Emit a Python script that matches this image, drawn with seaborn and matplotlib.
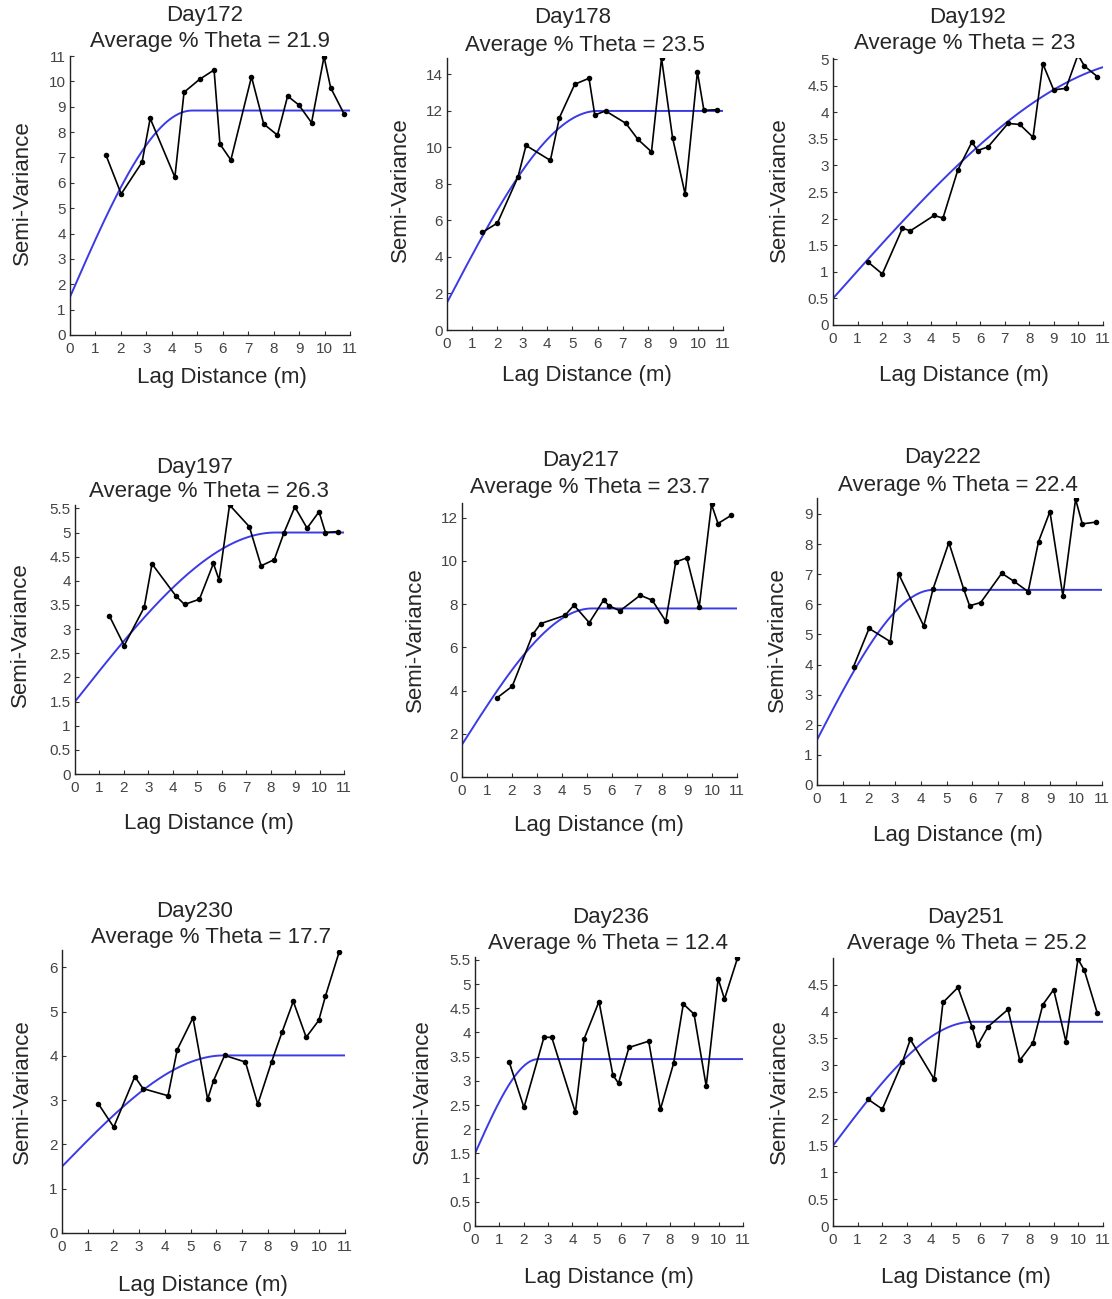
import numpy as np
import matplotlib
matplotlib.use("Agg")
import matplotlib.pyplot as plt
import seaborn as sns
import pandas as pd
from matplotlib import font_manager

# ---- data -------------------------------------------------------------
LAGS = [1.41, 2.01, 2.83, 3.15, 4.12, 4.48, 5.09, 5.66, 5.89, 6.32,
        7.13, 7.61, 8.15, 8.55, 8.99, 9.49, 9.98, 10.24, 10.77]

DAYS = ["Day172", "Day178", "Day192", "Day197", "Day217", "Day222",
        "Day230", "Day236", "Day251"]
THETA = ["21.9", "23.5", "23", "26.3", "23.7", "22.4", "17.7", "12.4", "25.2"]

gamma_172 = [7.10, 5.56, 6.81, 8.54, 6.22, 9.57, 10.08, 10.45, 7.53, 6.90,
             10.18, 8.32, 7.88, 9.42, 9.07, 8.37, 10.97, 9.75, 8.71]
gamma_178 = [5.35, 5.86, 8.39, 10.11, 9.29, 11.63, 13.46, 13.79, 11.78, 12.0,
             11.32, 10.44, 9.76, 14.89, 10.53, 7.45, 14.14, 12.03, 12.07]
gamma_192 = [1.19, 0.96, 1.82, 1.77, 2.06, 2.01, 2.92, 3.44, 3.28, 3.35,
             3.79, 3.77, 3.53, 4.91, 4.42, 4.45, 5.08, 4.87, 4.67]
gamma_197 = [3.27, 2.66, 3.45, 4.35, 3.69, 3.51, 3.62, 4.36, 4.02, 5.57,
             5.12, 4.31, 4.44, 5.00, 5.53, 5.09, 5.43, 5.00, 5.02]
gamma_217 = [3.67, 4.20, 6.60, 7.10, 7.48, 7.95, 7.14, 8.18, 7.92, 7.69,
             8.41, 8.18, 7.21, 9.95, 10.14, 7.87, 12.62, 11.73, 12.11]
gamma_222 = [3.93, 5.20, 4.76, 7.01, 5.28, 6.51, 8.05, 6.51, 5.95, 6.06,
             7.03, 6.76, 6.42, 8.08, 9.08, 6.28, 9.49, 8.67, 8.73]
gamma_230 = [2.92, 2.39, 3.53, 3.26, 3.10, 4.14, 4.86, 3.02, 3.44, 4.01,
             3.86, 2.91, 3.87, 4.53, 5.23, 4.42, 4.80, 5.35, 6.34]
gamma_236 = [3.38, 2.45, 3.90, 3.90, 2.35, 3.87, 4.64, 3.12, 2.95, 3.69,
             3.82, 2.41, 3.36, 4.59, 4.38, 2.89, 5.11, 4.69, 5.53]
gamma_251 = [2.37, 2.18, 3.06, 3.48, 2.74, 4.17, 4.45, 3.72, 3.37, 3.72,
             4.04, 3.09, 3.42, 4.13, 4.41, 3.44, 4.98, 4.77, 3.97]

GAMMAS = [gamma_172, gamma_178, gamma_192, gamma_197, gamma_217,
          gamma_222, gamma_230, gamma_236, gamma_251]

# fitted spherical models: nugget, total sill, range (m)
NUGGET = [1.5, 1.5, 0.5, 1.5, 1.5, 1.5, 1.5, 1.5, 1.5]
SILL = [8.85, 12.0, 5.0, 5.0, 7.8, 6.48, 4.01, 3.45, 3.81]
RANGE = [4.8, 6.0, 13.0, 8.2, 5.2, 4.5, 6.3, 2.6, 5.7]

# y tick steps and tops
YSTEP = [1, 2, 0.5, 0.5, 2, 1, 1, 0.5, 0.5]
YTICK_MAX = [11, 14, 5, 5.5, 12, 9, 6, 5.5, 4.5]

# ---- layout (pixel boxes: left, right, top, bottom; y-limit top) -------
W, H = 1112, 1299
BOXES = [(70, 350, 56, 335, 11.0),
         (447, 723, 58, 330, 14.9),
         (833, 1103, 58, 325, 5.02),
         (75, 344, 505, 774, 5.57),
         (462, 737, 503, 777, 12.68),
         (817, 1102, 498, 785, 9.53),
         (62, 345, 950, 1233, 6.39),
         (475, 743, 957, 1226, 5.56),
         (833, 1103, 958, 1226, 5.0)]
TITLE1_POS = [(205, 15), (573, 18), (968, 17), (195, 467), (581, 461),
              (943, 457), (195, 911), (611, 918), (966, 918)]
TITLE2_POS = [(210, 42), (585, 45), (965, 43), (209, 492), (590, 488),
              (958, 485), (211, 937), (608, 943), (967, 943)]
YLAB_POS = [(22, 193), (400, 190), (779, 190), (20, 635), (415, 640),
            (777, 640), (22, 1092), (422, 1092), (779, 1092)]
XLAB_POS = [(222, 378), (587, 375), (964, 376), (209, 823), (599, 826),
            (958, 836), (203, 1285), (609, 1278), (966, 1277)]

sns.set_style("white")
installed = {f.name for f in font_manager.fontManager.ttflist}
MAIN_FONT = ["Liberation Sans", "DejaVu Sans"]
TICK_FONT = (["Liberation Sans Narrow", "DejaVu Sans"]
             if "Liberation Sans Narrow" in installed else MAIN_FONT)
plt.rcParams["font.family"] = MAIN_FONT


def spherical(h, c0, sill, a):
    r = np.clip(h / a, 0, 1)
    return c0 + (sill - c0) * (1.5 * r - 0.5 * r ** 3)


def fx(x):
    return x / W


def fy(y):
    return 1 - y / H


fig = plt.figure(figsize=(W / 100, H / 100), dpi=100)
fig.patch.set_facecolor("white")

blue = "#3a3ae6"
for i in range(9):
    l, r, t, b, ytop = BOXES[i]
    ax = fig.add_axes([fx(l), fy(b), (r - l) / W, (b - t) / H])
    df = pd.DataFrame({"lag": LAGS, "gamma": GAMMAS[i]})
    hh = np.linspace(0, 11, 300)
    model = pd.DataFrame({"lag": hh,
                          "gamma": spherical(hh, NUGGET[i], SILL[i], RANGE[i])})
    sns.lineplot(data=model, x="lag", y="gamma", ax=ax, color=blue,
                 linewidth=1.4, sort=True, zorder=2)
    sns.lineplot(data=df, x="lag", y="gamma", ax=ax, color="black",
                 linewidth=1.2, marker="o", markersize=4, markeredgewidth=0,
                 sort=False, zorder=3)
    ax.set_xlim(0, 11)
    ax.set_ylim(0, ytop)
    ax.set_xticks(range(0, 12))
    yt = np.arange(0, YTICK_MAX[i] + 1e-9, YSTEP[i])
    ax.set_yticks(yt)
    ax.set_yticklabels([f"{v:g}" for v in yt])
    ax.set_xticklabels([str(v) for v in range(0, 12)])
    ax.set_xlabel("")
    ax.set_ylabel("")
    for s in ("top", "right"):
        ax.spines[s].set_visible(False)
    for s in ("left", "bottom"):
        ax.spines[s].set_color("#222222")
        ax.spines[s].set_linewidth(1.0)
    ax.tick_params(axis="both", direction="in", length=3, width=0.8,
                   color="#333333", labelsize=11, labelcolor="#444444")
    ax.tick_params(axis="x", pad=5)
    ax.tick_params(axis="y", pad=3)
    ax.tick_params(axis="both", left=True, bottom=True)
    for lab in ax.get_xticklabels() + ax.get_yticklabels():
        lab.set_family(TICK_FONT)
    ax.set_facecolor("white")

    fig.text(fx(TITLE1_POS[i][0]), fy(TITLE1_POS[i][1]), DAYS[i],
             ha="center", va="center", fontsize=16)
    fig.text(fx(TITLE2_POS[i][0]), fy(TITLE2_POS[i][1]),
             f"Average % Theta = {THETA[i]}", ha="center", va="center",
             fontsize=16)
    fig.text(fx(YLAB_POS[i][0]), fy(YLAB_POS[i][1]), "Semi-Variance",
             ha="center", va="center", rotation=90, fontsize=16)
    fig.text(fx(XLAB_POS[i][0]), fy(XLAB_POS[i][1]), "Lag Distance (m)",
             ha="center", va="center", fontsize=16)

fig.savefig("out.png", dpi=100, facecolor="white")
